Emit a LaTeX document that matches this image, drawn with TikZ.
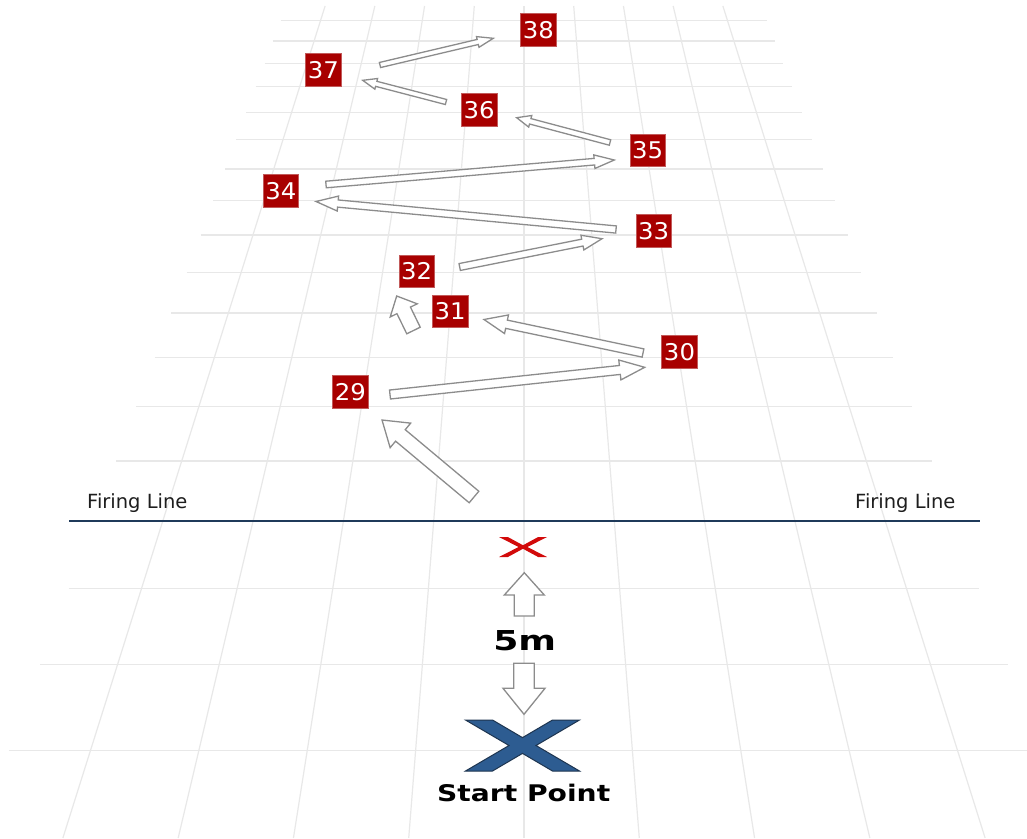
\documentclass[tikz,border=0pt]{standalone}
\usepackage{fontspec}
\usepackage{graphicx}
\setmainfont{DejaVu Sans}
\newfontfamily\labelfont{DejaVu Sans}
\newfontfamily\numfont[FakeStretch=1.06]{DejaVu Sans}
\newfontfamily\heavyfont{DejaVu Sans}
\usetikzlibrary{calc}

\definecolor{gridgray}{HTML}{E8E8E8}
\definecolor{targetred}{HTML}{A80000}
\definecolor{targetedge}{HTML}{C25A5A}
\definecolor{arrowgray}{HTML}{8C8C8C}
\definecolor{linenavy}{HTML}{1F3A5A}
\definecolor{markred}{HTML}{D20A0A}
\definecolor{startblue}{HTML}{2D5C91}
\definecolor{startedge}{HTML}{1E3550}
\definecolor{textdark}{HTML}{1E1E1E}

\tikzset{
  gridline/.style={draw=gridgray, line width=1.2pt},
  target/.style={fill=targetred, draw=targetedge, line width=0.7pt,
    minimum width=35.5pt, minimum height=32.5pt, inner sep=0pt,
    text=white, font=\numfont\fontsize{23}{23}\selectfont},
  barrowstyle/.style={draw=arrowgray, fill=white, line width=1.3pt, line join=miter},
  firingtext/.style={text=textdark, inner sep=0pt, font=\labelfont\fontsize{19.5}{19.5}\selectfont},
  heavytext/.style={text=black, inner sep=0pt},
}

% hollow block arrow: #1 tail, #2 tip, #3 shaft half width, #4 head half width, #5 head length
\newcommand\blockarrow[5]{%
  \coordinate (ba-h) at ($(#2)!#5pt!(#1)$);
  \draw[barrowstyle] ($(#1)!#3pt!90:(#2)$) -- ($(ba-h)!#3pt!90:(#2)$)
    -- ($(ba-h)!#4pt!90:(#2)$) -- (#2) -- ($(ba-h)!#4pt!-90:(#2)$)
    -- ($(ba-h)!#3pt!-90:(#2)$) -- ($(#1)!#3pt!-90:(#2)$) -- cycle;
}

% stylised cross, centred on the origin
\newcommand\crosspath{(-57,-25.5) -- (-30,-25.5) -- (0,-7.9) -- (30,-25.5) -- (57,-25.5)
  -- (13.5,0) -- (57,25.5) -- (30,25.5) -- (0,7.9) -- (-30,25.5) -- (-57,25.5)
  -- (-13.5,0) -- cycle}
% slimmer cross for the firing position mark
\newcommand\slimcrosspath{(-57,-25.5) -- (-36,-25.5) -- (0,-4.5) -- (36,-25.5) -- (57,-25.5)
  -- (10.5,0) -- (57,25.5) -- (36,25.5) -- (0,4.5) -- (-36,25.5) -- (-57,25.5)
  -- (-10.5,0) -- cycle}

\begin{document}
\begin{tikzpicture}[x=1pt,y=-1pt]
\useasboundingbox (0,0) rectangle (1027,838);
\fill[white] (0,0) rectangle (1027,838);

% perspective floor grid
\foreach \y in {20.16,40.96,63.13,86.85,112.24,139.53,168.90,200.63,234.99,272.34,
                313.09,357.70,406.78,461.01,521.26,588.59,664.32,750.14}
  \draw[gridline] ({524-0.3727*(\y+633)},\y) -- ({524+0.3727*(\y+633)},\y);
\foreach \k in {-4,...,4}
  \draw[gridline] ({524+\k*49.72},6) -- ({524+\k*115.28},838);

% firing line
\draw[linenavy, line width=2.6pt] (69,521) -- (980,521);
\node[firingtext, anchor=base west] (flleft) at (87,508.3) {Firing Line};
\node[firingtext, anchor=base west] (flright) at (855,508.3) {Firing Line};

% targets
\node[target] (n29) at (350.5,392) {29};
\node[target] (n30) at (679.5,351.7) {30};
\node[target] (n31) at (450.2,311.3) {31};
\node[target] (n32) at (416.7,271.2) {32};
\node[target] (n33) at (653.7,230.7) {33};
\node[target] (n34) at (281,191) {34};
\node[target] (n35) at (647.7,150.3) {35};
\node[target] (n36) at (479.2,110) {36};
\node[target] (n37) at (323.3,69.7) {37};
\node[target] (n38) at (538.3,29.7) {38};

% arrow ends
\coordinate (a0s) at ($(n29)+(123.5,105)$);
\coordinate (a0e) at ($(n29)+(31.5,28)$);
\coordinate (a1s) at ($(n29)+(39.5,2.5)$);
\coordinate (a1e) at ($(n30)+(-34.8,15.6)$);
\coordinate (a2s) at ($(n30)+(-36.5,1.3)$);
\coordinate (a2e) at ($(n31)+(33.8,8.2)$);
\coordinate (a3s) at ($(n31)+(-36.7,19.2)$);
\coordinate (a3e) at ($(n32)+(-20,24.8)$);
\coordinate (a4s) at ($(n32)+(43,-4.2)$);
\coordinate (a4e) at ($(n33)+(-51.7,8)$);
\coordinate (a5s) at ($(n33)+(-37.7,-1.2)$);
\coordinate (a5e) at ($(n34)+(35,10.5)$);
\coordinate (a6s) at ($(n34)+(45,-6.5)$);
\coordinate (a6e) at ($(n35)+(-33.4,9.7)$);
\coordinate (a7s) at ($(n35)+(-37.7,-7.8)$);
\coordinate (a7e) at ($(n36)+(37.5,7.7)$);
\coordinate (a8s) at ($(n36)+(-33.2,-8)$);
\coordinate (a8e) at ($(n37)+(39.4,10.6)$);
\coordinate (a9s) at ($(n37)+(56.7,-4.7)$);
\coordinate (a9e) at ($(n38)+(-45,8.6)$);

\blockarrow{a0s}{a0e}{7.5}{16}{24}
\blockarrow{a1s}{a1e}{4.5}{10}{25}
\blockarrow{a2s}{a2e}{4.2}{9.5}{23}
\blockarrow{a3s}{a3e}{7.5}{15}{16}
\blockarrow{a4s}{a4e}{3.5}{7.5}{20}
\blockarrow{a5s}{a5e}{3.6}{7.5}{22}
\blockarrow{a6s}{a6e}{3.3}{6.8}{20}
\blockarrow{a7s}{a7e}{2.8}{6}{14}
\blockarrow{a8s}{a8e}{2.6}{5.5}{14}
\blockarrow{a9s}{a9e}{2.6}{5.5}{16}

% firing position mark and start point
\begin{scope}[shift={(523,547)}, xscale=0.421, yscale=0.392]
  \fill[markred] \slimcrosspath;
\end{scope}
\coordinate (redx) at (523,547);
\begin{scope}[shift={(522.5,745.5)}]
  \draw[fill=startblue, draw=startedge, line width=1pt, line join=miter] \crosspath;
\end{scope}
\coordinate (startx) at (522.5,745.5);

\node[heavytext, anchor=base] (dist) at (524.7,650)
  {\scalebox{1.32}[1]{\heavyfont\bfseries\fontsize{27.4}{27.4}\selectfont 5m}};
\node[heavytext, anchor=base] (start) at (523.7,801.7)
  {\scalebox{1.23}[1]{\heavyfont\bfseries\fontsize{22.9}{22.9}\selectfont Start Point}};

\coordinate (up-s) at ($(redx)+(1.3,69)$);
\coordinate (up-e) at ($(redx)+(1.3,25.7)$);
\coordinate (dn-s) at ($(startx)+(1.5,-82.2)$);
\coordinate (dn-e) at ($(startx)+(1.5,-31.2)$);
\blockarrow{up-s}{up-e}{10}{20}{22.3}
\blockarrow{dn-s}{dn-e}{10.3}{21}{26}
\end{tikzpicture}
\end{document}
